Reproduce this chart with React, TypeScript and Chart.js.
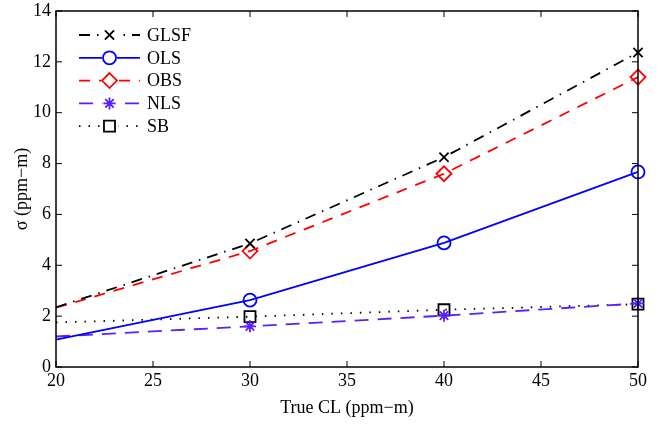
import React, { useEffect, useRef } from "react";
import { Chart, registerables } from "chart.js";

Chart.register(...registerables);

const xValues = [20, 30, 40, 50];
const glsf = [2.35, 4.86, 8.25, 12.37];
const ols = [1.08, 2.63, 4.88, 7.67];
const obs = [2.33, 4.56, 7.6, 11.4];
const nls = [1.2, 1.6, 2.02, 2.5];
const sb = [1.75, 1.98, 2.25, 2.47];
const xTickStep = 5;
const yTickStep = 2;

const FONT = "'Liberation Serif', 'Times New Roman', serif";

type SeriesStyle = {
  label: string;
  data: number[];
  color: string;
  dash: number[];
  marker: string;
  radius: number;
};

const series: SeriesStyle[] = [
  { label: "GLSF", data: glsf, color: "#000000", dash: [11, 7, 1.5, 7], marker: "crossRot", radius: 6.5 },
  { label: "OLS", data: ols, color: "#0000ff", dash: [], marker: "circle", radius: 6.5 },
  { label: "OBS", data: obs, color: "#ff0000", dash: [11, 9], marker: "rectRot", radius: 7.5 },
  { label: "NLS", data: nls, color: "#5a1eff", dash: [14, 9], marker: "star", radius: 6 },
  { label: "SB", data: sb, color: "#000000", dash: [1.5, 8], marker: "rect", radius: 7.8 },
];

function drawMarker(ctx: CanvasRenderingContext2D, style: string, x: number, y: number, r: number, color: string) {
  ctx.save();
  ctx.setLineDash([]);
  ctx.strokeStyle = color;
  ctx.lineWidth = 1.8;
  ctx.beginPath();
  if (style === "circle") {
    ctx.arc(x, y, r, 0, Math.PI * 2);
  } else if (style === "crossRot") {
    const d = r * Math.SQRT1_2;
    ctx.moveTo(x - d, y - d); ctx.lineTo(x + d, y + d);
    ctx.moveTo(x - d, y + d); ctx.lineTo(x + d, y - d);
  } else if (style === "rectRot") {
    ctx.moveTo(x, y - r); ctx.lineTo(x + r, y); ctx.lineTo(x, y + r); ctx.lineTo(x - r, y); ctx.closePath();
  } else if (style === "rect") {
    const s = r * Math.SQRT1_2;
    ctx.rect(x - s, y - s, 2 * s, 2 * s);
  } else if (style === "star") {
    for (let i = 0; i < 4; i++) {
      const a = (i * Math.PI) / 4;
      ctx.moveTo(x - Math.cos(a) * r, y - Math.sin(a) * r);
      ctx.lineTo(x + Math.cos(a) * r, y + Math.sin(a) * r);
    }
  }
  ctx.stroke();
  ctx.restore();
}

const framePlugin = {
  id: "frame",
  afterDatasetsDraw(chart: any) {
    const { ctx, chartArea, scales } = chart;
    const { left, right, top, bottom } = chartArea;
    ctx.save();
    ctx.strokeStyle = "#000";
    ctx.lineWidth = 1.5;
    ctx.setLineDash([]);
    ctx.strokeRect(left, top, right - left, bottom - top);
    ctx.lineWidth = 1;
    const tl = 6;
    ctx.beginPath();
    for (let v = 20; v <= 50; v += xTickStep) {
      const px = scales.x.getPixelForValue(v);
      ctx.moveTo(px, bottom); ctx.lineTo(px, bottom - tl);
      ctx.moveTo(px, top); ctx.lineTo(px, top + tl);
    }
    for (let v = 0; v <= 14; v += yTickStep) {
      const py = scales.y.getPixelForValue(v);
      ctx.moveTo(left, py); ctx.lineTo(left + tl, py);
      ctx.moveTo(right, py); ctx.lineTo(right - tl, py);
    }
    ctx.stroke();

    // legend
    const lx0 = left + 23;
    const lx1 = left + 84;
    const mx = (lx0 + lx1) / 2;
    const tx = left + 91;
    const rowY0 = top + 24;
    const rowH = 22.8;
    ctx.font = `18px ${FONT}`;
    ctx.textBaseline = "middle";
    ctx.textAlign = "left";
    series.forEach((s, i) => {
      const y = rowY0 + i * rowH;
      ctx.save();
      ctx.strokeStyle = s.color;
      ctx.lineWidth = 1.8;
      ctx.setLineDash(s.dash);
      ctx.beginPath();
      ctx.moveTo(lx0, y);
      ctx.lineTo(lx1, y);
      ctx.stroke();
      ctx.restore();
      ctx.save();
      ctx.fillStyle = "#fff";
      const r = s.radius + 1;
      ctx.fillRect(mx - r, y - r, 2 * r, 2 * r);
      ctx.restore();
      drawMarker(ctx, s.marker, mx, y, s.radius, s.color);
      ctx.fillStyle = "#000";
      ctx.fillText(s.label, tx, y + 1);
    });
    ctx.restore();
  },
};

export default function App() {
  const ref = useRef<HTMLCanvasElement | null>(null);
  useEffect(() => {
    if (!ref.current) return;
    const chart = new Chart(ref.current, {
      type: "line",
      data: {
        datasets: series.map((s) => ({
          label: s.label,
          data: xValues.map((x, i) => ({ x, y: s.data[i] })),
          borderColor: s.color,
          borderWidth: 1.8,
          borderDash: s.dash,
          pointStyle: s.marker as any,
          pointRadius: xValues.map((_, i) => (i === 0 ? 0 : s.radius)),
          pointBorderColor: s.color,
          pointBackgroundColor: "rgba(0,0,0,0)",
          pointBorderWidth: 1.8,
          tension: 0,
          fill: false,
          clip: false as any,
        })),
      },
      options: {
        animation: false,
        responsive: false,
        maintainAspectRatio: false,
        layout: { padding: { left: 0, right: 19, top: 11, bottom: 0 } },
        plugins: { legend: { display: false }, tooltip: { enabled: false } },
        scales: {
          x: {
            type: "linear",
            min: 20,
            max: 50,
            border: { display: false },
            grid: { display: false, drawTicks: false },
            ticks: { stepSize: xTickStep, color: "#000", font: { family: FONT, size: 18 }, padding: 3, maxRotation: 0 },
            title: { display: true, text: "True CL (ppm\u2212m)", color: "#000", font: { family: FONT, size: 18 }, padding: { top: 0, bottom: 5 } },
            afterFit: (scale: any) => { scale.height = 57; },
          },
          y: {
            type: "linear",
            min: 0,
            max: 14,
            border: { display: false },
            grid: { display: false, drawTicks: false },
            ticks: { stepSize: yTickStep, color: "#000", font: { family: FONT, size: 18 }, padding: 5 },
            title: { display: true, text: "\u03c3 (ppm\u2212m)", color: "#000", font: { family: FONT, size: 18 }, padding: { top: 11, bottom: 0 } },
            afterFit: (scale: any) => { scale.width = 56; scale.paddingTop = 0; scale.paddingBottom = 0; },
          },
        },
      },
      plugins: [framePlugin],
    });
    return () => chart.destroy();
  }, []);
  return (
    <div style={{ position: "absolute", left: 0, top: 0, width: 657, height: 424, background: "#fff" }}>
      <canvas ref={ref} width={657} height={424} style={{ width: 657, height: 424 }} />
    </div>
  );
}
